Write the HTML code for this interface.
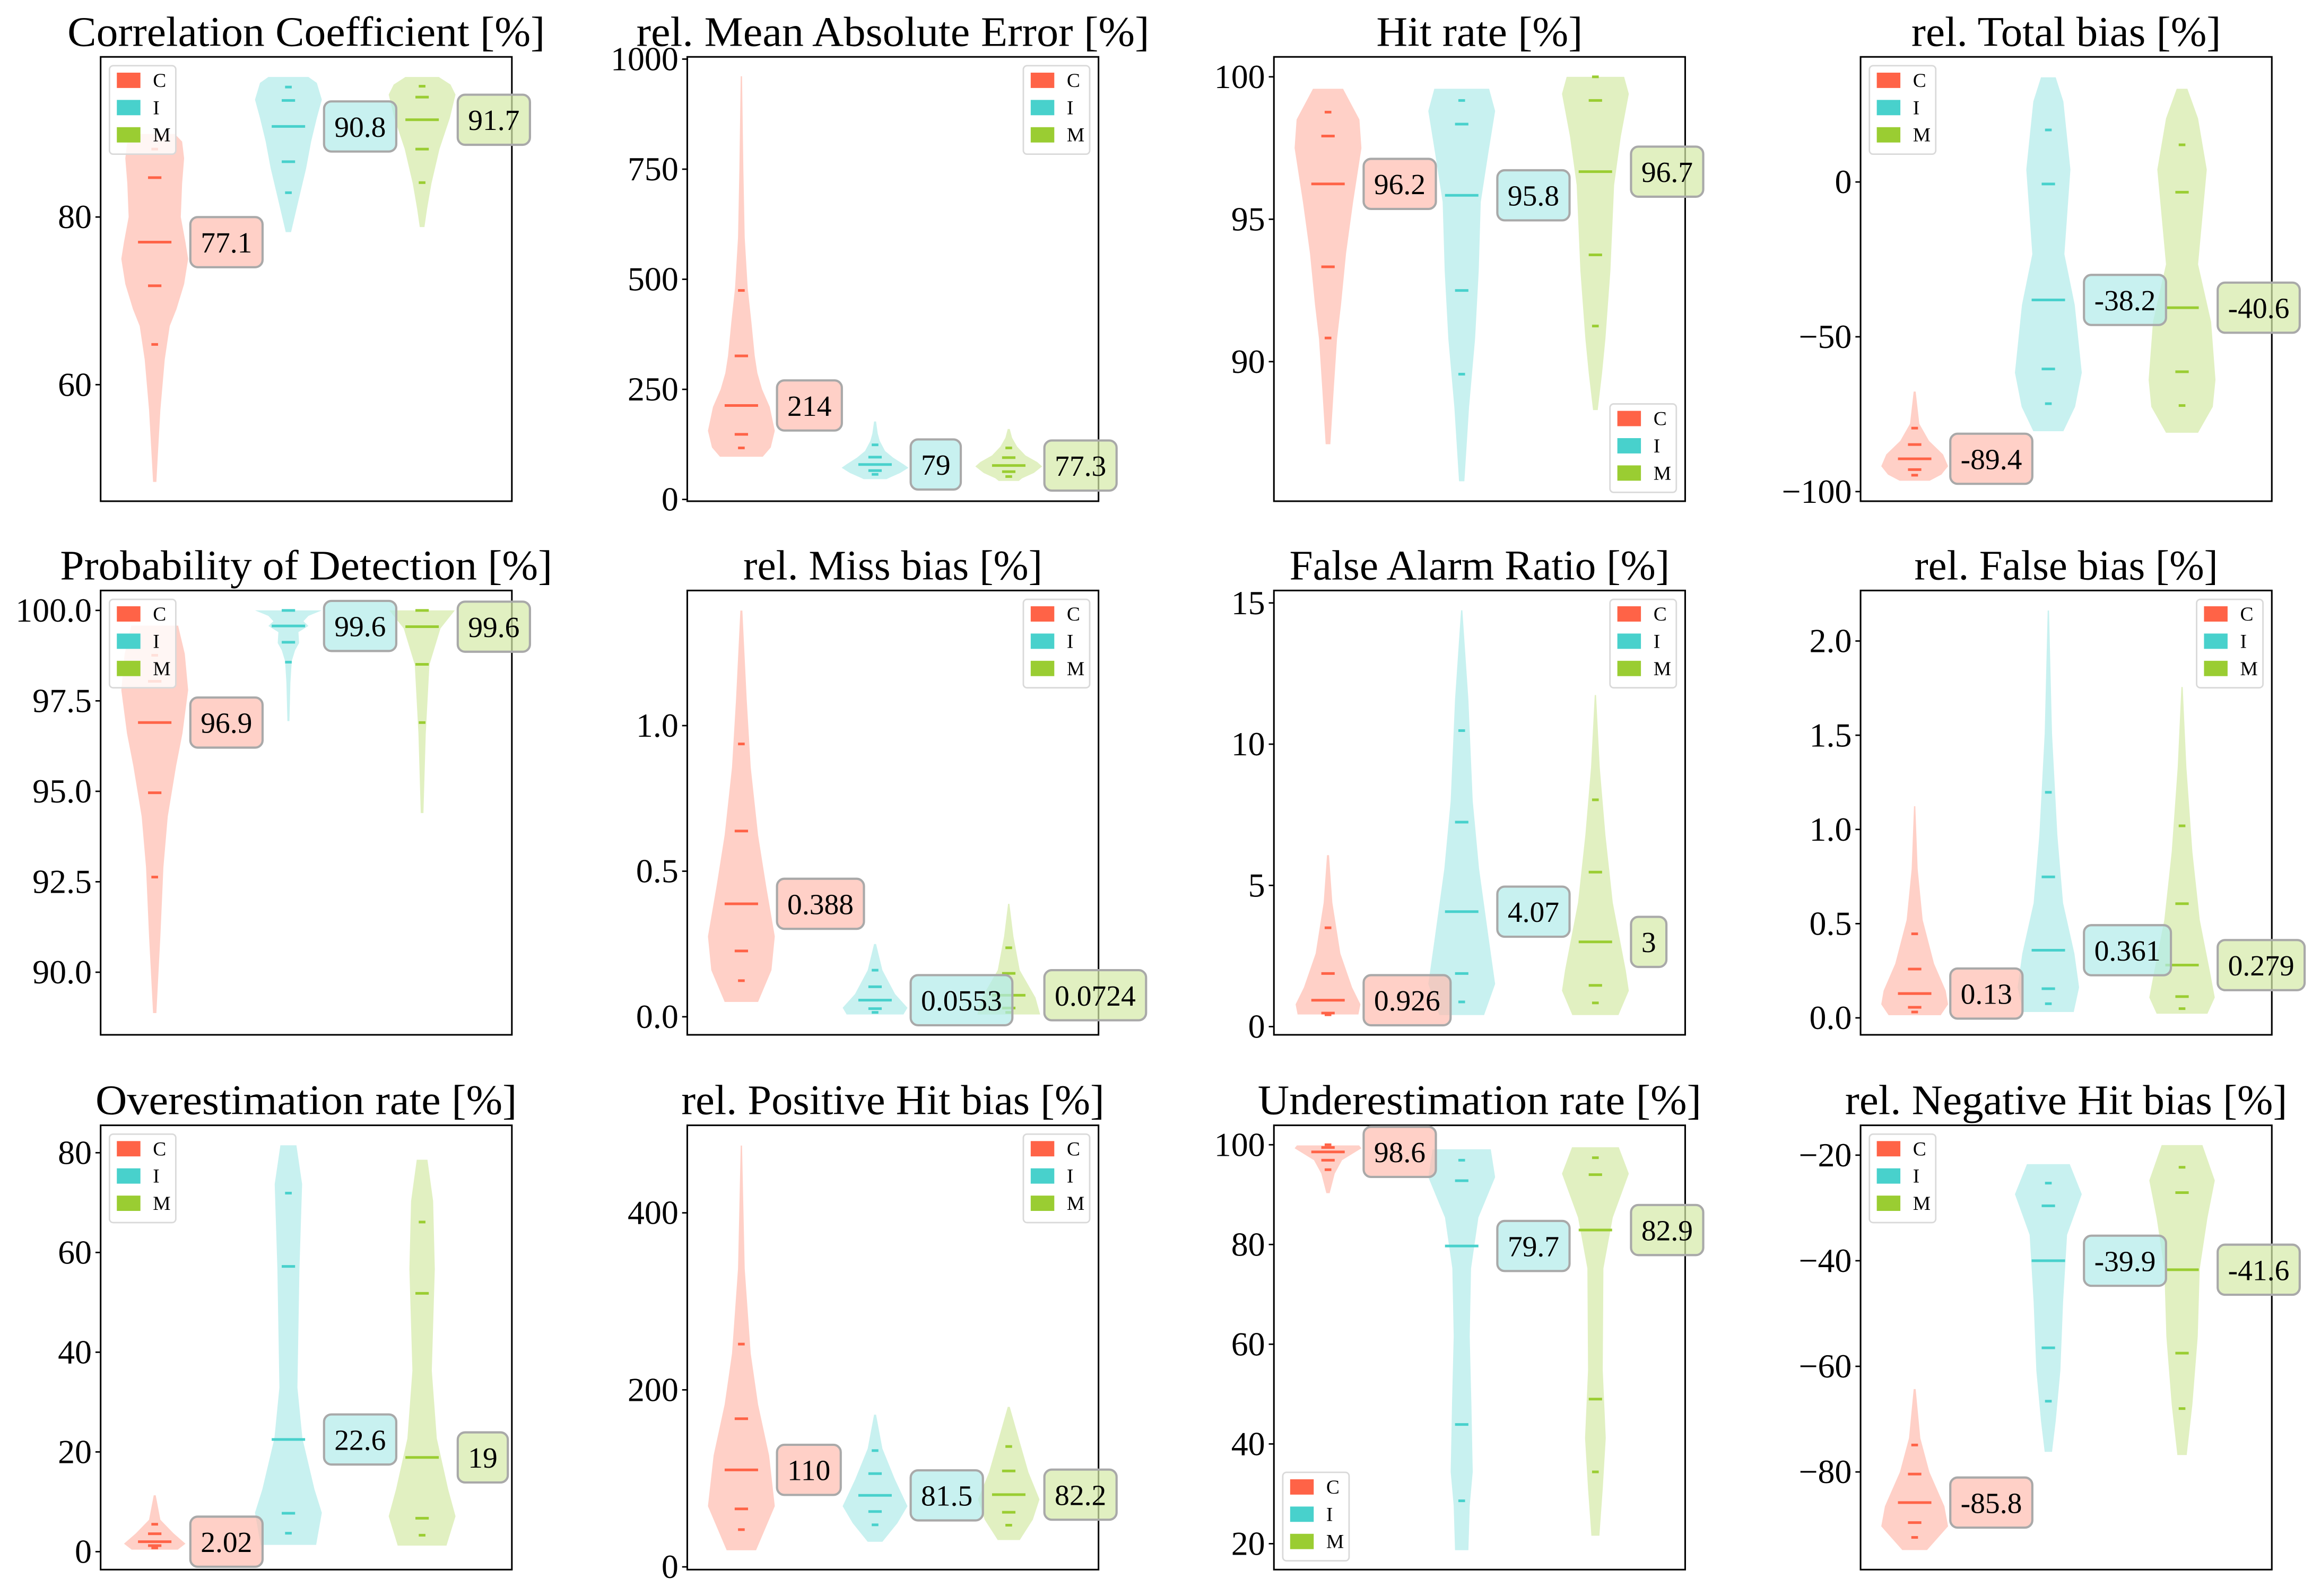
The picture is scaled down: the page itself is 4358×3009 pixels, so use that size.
<!DOCTYPE html>
<html><head><meta charset="utf-8"><style>
html,body{margin:0;padding:0;background:#fff;}
svg{display:block;}
text{font-family:"Liberation Serif",serif;}
</style></head><body>
<svg id="fig" xmlns="http://www.w3.org/2000/svg" width="4358" height="3009" viewBox="0 0 1568 1083" font-family="'Liberation Serif', serif">
<rect x="0" y="0" width="1568" height="1083" fill="#fff"/>
</svg>
<script>
const titles=["Correlation Coefficient [%]","rel. Mean Absolute Error [%]","Hit rate [%]","rel. Total bias [%]","Probability of Detection [%]","rel. Miss bias [%]","False Alarm Ratio [%]","rel. False bias [%]","Overestimation rate [%]","rel. Positive Hit bias [%]","Underestimation rate [%]","rel. Negative Hit bias [%]"];
const titleWidths=[324,348,140,210,334,203,258,206,286,287,301,300];
const yLimits=[[46.1,99.1],[-4,1005],[85.1,100.7],[-103.1,40.4],[88.27,100.55],[-0.062,1.464],[-0.29,15.44],[-0.09,2.268],[-3.6,85.5],[-3.1,498.9],[14.8,103.9],[-98.5,-14.35]];
const tickValues=[[60,80],[0,250,500,750,1000],[90,95,100],[-100,-50,0],[90,92.5,95,97.5,100],[0,0.5,1],[0,5,10,15],[0,0.5,1,1.5,2],[0,20,40,60,80],[0,200,400],[20,40,60,80,100],[-80,-60,-40,-20]];
const tickLabels=[["60","80"],["0","250","500","750","1000"],["90","95","100"],["\u2212100","\u221250","0"],["90.0","92.5","95.0","97.5","100.0"],["0.0","0.5","1.0"],["0","5","10","15"],["0.0","0.5","1.0","1.5","2.0"],["0","20","40","60","80"],["0","200","400"],["20","40","60","80","100"],["\u221280","\u221260","\u221240","\u221220"]];
const legendLoc=["ul","ur","lr","ul","ul","ur","ur","ur","ul","ur","ll","ul"];
const groups=["C","I","M"];
const groupColors=["#FF6347","#48D1CC","#9ACD32"];

const profC=[[[89.9,0.6],[89,0.82],[87,0.88],[84,0.82],[80,0.78],[77,0.92],[75,1.0],[72,0.88],[69,0.65],[67,0.45],[63,0.3],[57,0.17],[51,0.085],[48.4,0.05]],
[[961,0.02],[750,0.06],[595,0.1],[480,0.19],[403,0.3],[326,0.4],[287,0.48],[250,0.62],[210,0.85],[156,1.0],[118,0.88],[97,0.64]],
[[99.58,0.45],[98.5,0.94],[97.5,1.0],[95.6,0.75],[93.8,0.54],[92,0.39],[90.8,0.27],[89,0.17],[87.1,0.07]],
[[-67.7,0.03],[-78.1,0.14],[-83.6,0.43],[-88,0.85],[-91.8,1.0],[-94.5,0.8],[-96.5,0.45]],
[[99.58,0.7],[98.8,0.9],[97.8,1.0],[96.6,0.83],[95.7,0.64],[94.3,0.39],[92.9,0.26],[91,0.17],[88.87,0.05]],
[[1.395,0.03],[1.09,0.16],[0.857,0.28],[0.624,0.5],[0.45,0.74],[0.276,1.0],[0.16,0.9],[0.051,0.5]],
[[6.07,0.03],[4.39,0.13],[2.59,0.37],[1.39,0.72],[0.79,0.97],[0.43,0.91]],
[[1.123,0.02],[0.79,0.09],[0.52,0.24],[0.288,0.58],[0.144,0.93],[0.072,1.0],[0.014,0.78]],
[[11.3,0.03],[6.4,0.17],[3.7,0.56],[1.6,0.92],[0.4,0.69]],
[[476,0.02],[337,0.1],[241,0.28],[183.5,0.5],[126,0.83],[68.6,1.0],[18.8,0.44]],
[[99.86,0.93],[99.3,1.0],[96.9,0.42],[94.2,0.2],[90.3,0.05]],
[[-64.3,0.03],[-73.6,0.17],[-80,0.44],[-86.5,0.89],[-90.3,1.0],[-94.8,0.37]]];
const medC=[77.0,213.4,96.24,-89.4,96.9,0.388,0.935,0.129,2.0,109.6,98.57,-85.8];
const innerC=[[84.7,71.8],[325.9,147.9],[97.92,93.33],[-84.8,-92.9],[98.04,94.96],[0.638,0.226],[1.88,0.48],[0.259,0.056],[3.6,1.22],[167.4,65.5],[99.46,96.9],[-80.4,-89.6]];
const outerC=[[88.1,64.8],[474.6,117],[98.76,90.83],[-79.5,-94.7],[98.76,92.63],[0.937,0.124],[3.5,0.42],[0.446,0.031],[5.5,0.75],[251.7,42.1],[100,95.0],[-74.9,-92.4]];
const labelC=["77.1","214","96.2","-89.4","96.9","0.388","0.926","0.13","2.02","110","98.6","-85.8"];

const profI=[[[96.7,0.6],[96,0.85],[94,1.0],[91.8,0.85],[89,0.68],[85.8,0.53],[81.6,0.28],[78.2,0.08]],
[[177,0.03],[150,0.08],[133,0.14],[110,0.3],[95,0.54],[80,0.85],[72,1.0],[60,0.75],[50,0.45],[46,0.34]],
[[99.58,0.82],[98.8,1.0],[97.35,0.8],[95.6,0.57],[93.2,0.51],[90.8,0.4],[88.4,0.22],[85.8,0.08]],
[[33.8,0.22],[26,0.45],[4,0.66],[-23.3,0.48],[-39.7,0.79],[-61.6,1.0],[-72.6,0.8],[-80.5,0.45]],
[[100,1.0],[99.85,0.6],[99.7,0.45],[99.57,0.6],[99.4,0.3],[99.1,0.32],[98.9,0.2],[98.6,0.1],[98,0.06],[96.94,0.03]],
[[0.25,0.03],[0.16,0.22],[0.078,0.6],[0.031,0.97],[0.008,0.85]],
[[14.74,0.02],[11.58,0.2],[7.99,0.33],[5.59,0.52],[3.19,0.8],[1.51,1.0],[0.41,0.67]],
[[2.162,0.02],[1.509,0.11],[0.97,0.27],[0.61,0.44],[0.341,0.78],[0.162,0.92],[0.031,0.76]],
[[81.5,0.24],[73.7,0.41],[56.7,0.33],[32.9,0.27],[22.7,0.42],[12.5,0.78],[7.8,1.0],[1.36,0.83]],
[[172,0.03],[133.7,0.22],[99.2,0.59],[68.6,0.97],[49.4,0.67],[28.4,0.22]],
[[99.1,0.87],[93.5,1.0],[85.4,0.5],[75.2,0.28],[61.6,0.24],[48,0.29],[34.4,0.33],[27.6,0.24],[18.7,0.2]],
[[-21.7,0.64],[-27.4,1.0],[-35.1,0.56],[-47.9,0.44],[-60.8,0.36],[-70.4,0.22],[-76.2,0.11]]];
const medI=[90.8,79.4,95.84,-38.1,99.57,0.057,4.07,0.359,22.5,80.8,79.7,-40];
const innerI=[[93.9,86.6],[96,65.5],[98.34,92.5],[-0.66,-60.4],[100,99.12],[0.103,0.028],[7.24,1.88],[0.748,0.155],[57.2,7.7],[105.4,62.5],[92.8,43.9],[-29.6,-56.5]];
const outerI=[[95.5,82.9],[124,57],[99.17,89.56],[16.8,-71.6],[98.57],[0.16,0.015],[10.48,0.875],[1.197,0.075],[71.9,3.7],[131.4,47.5],[96.9,28.6],[-25.3,-66.6]];
const labelI=["90.8","79","95.8","-38.2","99.6","0.0553","4.07","0.361","22.6","81.5","79.7","-39.9"];

const profM=[[[96.7,0.5],[95.8,0.85],[94.6,1.0],[91.8,0.83],[88.1,0.52],[84,0.28],[81,0.15],[78.8,0.07]],
[[160,0.03],[140,0.1],[120,0.25],[100,0.5],[85,0.85],[75,1.0],[60,0.75],[48,0.4],[42,0.3]],
[[100,0.86],[99.4,1.0],[97.9,0.76],[96.2,0.56],[93.2,0.45],[90.8,0.3],[89.6,0.2],[88.3,0.07]],
[[30.1,0.16],[20.5,0.48],[4,0.74],[-26.6,0.48],[-45.2,0.87],[-63.9,1.0],[-72.6,0.92],[-81,0.48]],
[[100,0.98],[99.5,0.55],[98.5,0.22],[96.6,0.11],[94.4,0.04]],
[[0.388,0.02],[0.276,0.14],[0.16,0.33],[0.066,0.8],[0.008,0.94]],
[[11.74,0.02],[9.18,0.13],[6.79,0.3],[4.39,0.52],[1.99,0.91],[1.27,1.0],[0.41,0.69]],
[[1.756,0.02],[1.33,0.13],[0.88,0.31],[0.52,0.53],[0.25,0.83],[0.108,0.98],[0.022,0.76]],
[[78.6,0.16],[70.3,0.33],[56.7,0.38],[36.3,0.29],[22.7,0.44],[12.5,0.78],[7.1,1.0],[1.22,0.73]],
[[180.8,0.03],[145,0.3],[106.9,0.59],[76.2,0.92],[53.3,0.72],[30.3,0.33]],
[[99.5,0.7],[94.2,1.0],[85.4,0.52],[75.2,0.24],[54.8,0.22],[41.2,0.31],[31,0.22],[21.6,0.12]],
[[-18.1,0.61],[-24.8,0.98],[-31.9,0.76],[-41.5,0.53],[-54.3,0.47],[-67.2,0.31],[-76.8,0.14]]];
const medM=[91.6,77,96.67,-40.6,99.55,0.074,3.0,0.28,18.9,81.6,82.9,-41.7];
const innerM=[[94.3,88.1],[95,63],[99.17,93.75],[-3.3,-61.3],[100,98.51],[0.149,0.03],[5.47,1.46],[0.606,0.113],[51.8,6.7],[108.4,61.7],[94.0,49],[-27.1,-57.5]];
const outerM=[[95.6,84.1],[117,52],[100,91.25],[12,-72.2],[96.9],[0.237,0.015],[8.03,0.84],[1.019,0.049],[66.1,3.3],[136,47.1],[97.4,34.4],[-22.3,-68]];
const labelM=["91.7","77.3","96.7","-40.6","99.6","0.0724","3","0.279","19","82.2","82.9","-41.6"];

const NS="http://www.w3.org/2000/svg";
const svg=document.getElementById("fig");
const AX_L=[68,466,864,1262], AX_T=[38.6,400.7,763.6], AW=279, AH=301.5;
const UNIT=90.7, POS0=36.7;
const FF="'Liberation Serif', serif";
function mk(tag,attrs,parent){const e=document.createElementNS(NS,tag);for(const k in attrs)e.setAttribute(k,attrs[k]);(parent||svg).appendChild(e);return e;}

const PROF=[profC,profI,profM], MED=[medC,medI,medM], INN=[innerC,innerI,innerM], OUT=[outerC,outerI,outerM], LAB=[labelC,labelI,labelM];

for(let i=0;i<12;i++){
  const left=AX_L[i%4], top=AX_T[Math.floor(i/4)];
  const [lo,hi]=yLimits[i];
  const yS=v=>top+(hi-v)/(hi-lo)*AH;
  const xS=p=>left+POS0+(p-1)*UNIT;
  const g=mk("g",{});
  
  
  for(let k=0;k<3;k++){
    const cx=xS(k+1), prof=PROF[k][i], col=groupColors[k];
    const pts=[];
    prof.forEach(p=>pts.push((cx+p[1]*0.25*UNIT).toFixed(2)+","+yS(p[0]).toFixed(2)));
    for(let j=prof.length-1;j>=0;j--)pts.push((cx-prof[j][1]*0.25*UNIT).toFixed(2)+","+yS(prof[j][0]).toFixed(2));
    const poly=mk("polygon",{points:pts.join(" "),fill:col,"fill-opacity":"0.3",stroke:"none"},g);
    
    
    const lines=[[MED[k][i],0.125]];
    INN[k][i].forEach(v=>lines.push([v,0.05]));
    OUT[k][i].forEach(v=>lines.push([v,0.025]));
    lines.forEach(l=>{
      const yy=yS(l[0]);
      const ln=mk("line",{x1:cx-l[1]*UNIT,x2:cx+l[1]*UNIT,y1:yy,y2:yy,stroke:col,"stroke-width":"1.8"},g);
      
      
    });
  }
  const sp=mk("rect",{x:left,y:top,width:AW,height:AH,fill:"none",stroke:"#000","stroke-width":"1.1"},g);
  
  
  tickValues[i].forEach((v,j)=>{
    const yy=yS(v);
    const t=mk("line",{x1:left-3.5,x2:left,y1:yy,y2:yy,stroke:"#000","stroke-width":"1"},g);
    
    
    const tl=mk("text",{x:left-6,y:yy+7.6,"text-anchor":"end","font-size":"23","font-family":FF,fill:"#000"},g);
    
    
    tl.textContent=tickLabels[i][j];
  });
  const tt=mk("text",{x:left+AW/2,y:top-7.5,"text-anchor":"middle","font-size":"28.5","font-family":FF,fill:"#000",textLength:titleWidths[i],lengthAdjust:"spacingAndGlyphs"},g);
  
  
  tt.textContent=titles[i];
  for(let k=0;k<3;k++){
    const bx=xS(k+1)+0.25*UNIT+1.5, cy=yS(MED[k][i]);
    const bg=mk("g",{},g);
    
    
    const r0=mk("rect",{x:bx,y:cy-17,width:40,height:34,rx:5,fill:"#fff","fill-opacity":"0.6"},bg);
    const r1=mk("rect",{x:bx,y:cy-17,width:40,height:34,rx:5,fill:groupColors[k],"fill-opacity":"0.3",stroke:"#a9a9a9","stroke-width":"1.5"},bg);
    const tx=mk("text",{x:bx+7,y:cy+7,"font-size":"20","font-family":FF,fill:"#000"},bg);
    tx.textContent=LAB[k][i];
    const w=tx.getComputedTextLength()+14;
    r0.setAttribute("width",w);r1.setAttribute("width",w);
  }
  const LW=45, LH=60, loc=legendLoc[i];
  const lx=loc[1]==="l"?left+6:left+AW-6-LW;
  const ly=loc[0]==="u"?top+6:top+AH-6-LH;
  const lg=mk("g",{},g);
  
  
  mk("rect",{x:lx,y:ly,width:LW,height:LH,rx:2.5,fill:"#fff","fill-opacity":"0.8",stroke:"#d9d9d9","stroke-width":"1"},lg);
  for(let k=0;k<3;k++){
    const cy=ly+9.9+k*18.5;
    const e=mk("g",{},lg);
    
    
    mk("rect",{x:lx+5,y:cy-5.2,width:16,height:10.4,fill:groupColors[k]},e);
    const lt=mk("text",{x:lx+29.5,y:cy+4.5,"font-size":"13.5","font-family":FF,fill:"#000"},e);
    lt.textContent=groups[k];
  }
}
</script>
</body></html>
